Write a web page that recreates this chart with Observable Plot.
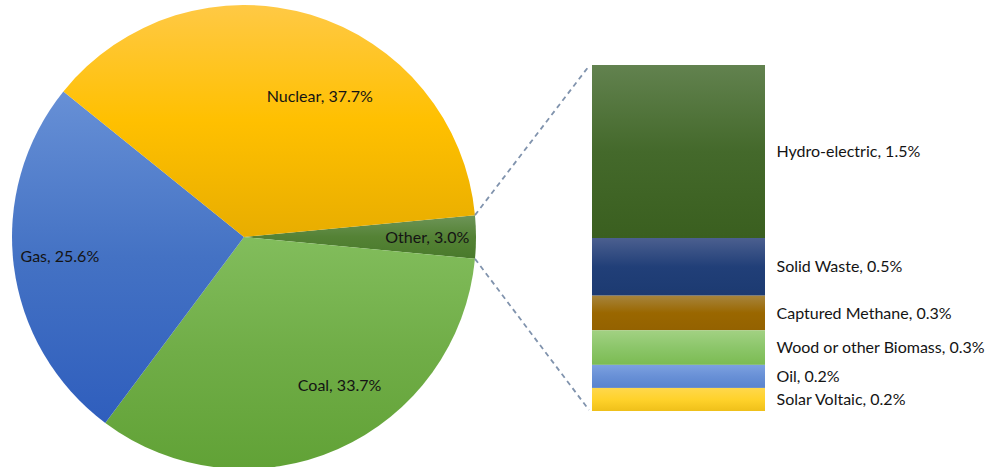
<!DOCTYPE html>
<html>
<head>
<meta charset="utf-8">
<script src="https://cdn.jsdelivr.net/npm/d3@7"></script>
<script src="https://cdn.jsdelivr.net/npm/@observablehq/plot@0.6"></script>
<style>
  body { margin: 0; background: #ffffff; }
  #chart svg { display: block; }
</style>
</head>
<body>
<div id="chart"></div>
<script>
// ---- Data ----
const pieCategories = ["Other", "Coal", "Gas", "Nuclear"];
const pieValues = [3.0, 33.7, 25.6, 37.7];

const otherCategories = ["Hydro-electric", "Solid Waste", "Captured Methane", "Wood or other Biomass", "Oil", "Solar Voltaic"];
const otherValues = [1.5, 0.5, 0.3, 0.3, 0.2, 0.2];

// ---- Styles (gradient stops: top, middle, bottom) ----
const pieGradients = {
  Nuclear: ["#FFC945", "#FFC000", "#E8AD00"],
  Coal:    ["#82BD5C", "#70AD47", "#61A236"],
  Gas:     ["#6790D6", "#4472C4", "#2F5EBD"],
  Other:   ["#6E9558", "#548235", "#497A2B"]
};
const barGradients = [
  ["#62824F", "#44692B", "#3A5F1F"],
  ["#4B5F8F", "#213F78", "#1C3A71"],
  ["#A6843C", "#9A6700", "#946200"],
  ["#A2D183", "#8CC66A", "#7BBB52"],
  ["#7CA1E0", "#6890D6", "#5A83CE"],
  ["#FFD84C", "#FFD22B", "#EFC01A"]
];
const FONT = "Lato, 'Open Sans', sans-serif";
const FONT_SIZE = 16;
const TEXT_COLOR = "#141414";

// ---- Layout ----
const W = 986, H = 467;
const PIE = {cx: 244, cy: 237, r: 232};
const BAR = {x1: 592, x2: 765, top: 65, bottom: 411, labelX: 776};
const labelLayout = {
  Nuclear: {f: 0.625, dx: 34, dy: 0},
  Gas:     {f: 0.80,  dx: 0,  dy: -2},
  Coal:    {f: 0.707, dx: 29, dy: 0},
  Other:   {f: 0.79,  dx: 0,  dy: 2}
};

const pieData = pieCategories.map((name, i) => ({name, value: pieValues[i]}));
const otherData = otherCategories.map((name, i) => ({name, value: otherValues[i], i}));
const pieTotal = d3.sum(pieValues);
const otherShare = pieData.find(d => d.name === "Other").value / pieTotal;
const startAngle = Math.PI / 2 - Math.PI * otherShare;
const arcs = d3.pie().sort(null).value(d => d.value)
  .startAngle(startAngle).endAngle(startAngle + 2 * Math.PI)(pieData);

function addGradient(defs, id, stops) {
  const lg = defs.append("linearGradient").attr("id", id)
    .attr("x1", 0).attr("y1", 0).attr("x2", 0).attr("y2", 1);
  [0, 0.5, 1].forEach((o, k) => lg.append("stop").attr("offset", o).attr("stop-color", stops[k]));
}

function pieMark(index, scales) {
  const g = d3.create("svg:g");
  const defs = g.append("defs");
  Object.entries(pieGradients).forEach(([k, s]) => addGradient(defs, "pie-" + k, s));
  barGradients.forEach((s, i) => addGradient(defs, "bar-" + i, s));
  const arc = d3.arc().innerRadius(0).outerRadius(PIE.r);
  const pg = g.append("g").attr("transform", `translate(${PIE.cx},${PIE.cy})`);
  pg.selectAll("path").data(arcs).join("path")
    .attr("d", arc)
    .attr("fill", d => `url(#pie-${d.data.name})`);
  pg.selectAll("text").data(arcs).join("text")
    .attr("x", d => {
      const a = (d.startAngle + d.endAngle) / 2, L = labelLayout[d.data.name];
      return Math.sin(a) * PIE.r * L.f + L.dx;
    })
    .attr("y", d => {
      const a = (d.startAngle + d.endAngle) / 2, L = labelLayout[d.data.name];
      return -Math.cos(a) * PIE.r * L.f + L.dy;
    })
    .attr("text-anchor", "middle")
    .attr("dominant-baseline", "middle")
    .attr("font-family", FONT)
    .attr("font-size", FONT_SIZE)
    .attr("fill", TEXT_COLOR)
    .text(d => `${d.data.name}, ${d.data.value.toFixed(1)}%`);
  return g.node();
}

function connectorMark(index, scales) {
  const g = d3.create("svg:g");
  const other = arcs.find(d => d.data.name === "Other");
  const pt = a => [PIE.cx + Math.sin(a) * PIE.r, PIE.cy - Math.cos(a) * PIE.r];
  const total = d3.sum(otherValues);
  const ends = [
    [pt(other.startAngle), [scales.x(BAR.x1) - 3, scales.y(total) + 1]],
    [pt(other.endAngle), [scales.x(BAR.x1) - 3, scales.y(0) - 1]]
  ];
  g.selectAll("line").data(ends).join("line")
    .attr("x1", d => d[0][0]).attr("y1", d => d[0][1])
    .attr("x2", d => d[1][0]).attr("y2", d => d[1][1])
    .attr("stroke", "#8093AD").attr("stroke-width", 1.8)
    .attr("stroke-dasharray", "5,4");
  return g.node();
}

const chart = Plot.plot({
  width: W,
  height: H,
  margin: 0,
  style: {background: "#ffffff", fontFamily: FONT},
  x: {domain: [0, W], range: [0, W], axis: null},
  y: {domain: [0, d3.sum(otherValues)], range: [BAR.bottom, BAR.top], axis: null},
  color: {type: "identity"},
  marks: [
    pieMark,
    Plot.rect(otherData, Plot.stackY({reverse: true}, {
      x1: BAR.x1, x2: BAR.x2, y: "value",
      fill: d => `url(#bar-${d.i})`
    })),
    connectorMark,
    Plot.text(otherData, Plot.stackY({reverse: true}, {
      x: BAR.labelX, y: "value",
      text: d => `${d.name}, ${d.value.toFixed(1)}%`,
      textAnchor: "start",
      fontSize: FONT_SIZE,
      fill: TEXT_COLOR
    }))
  ]
});
document.getElementById("chart").append(chart);
</script>
</body>
</html>
